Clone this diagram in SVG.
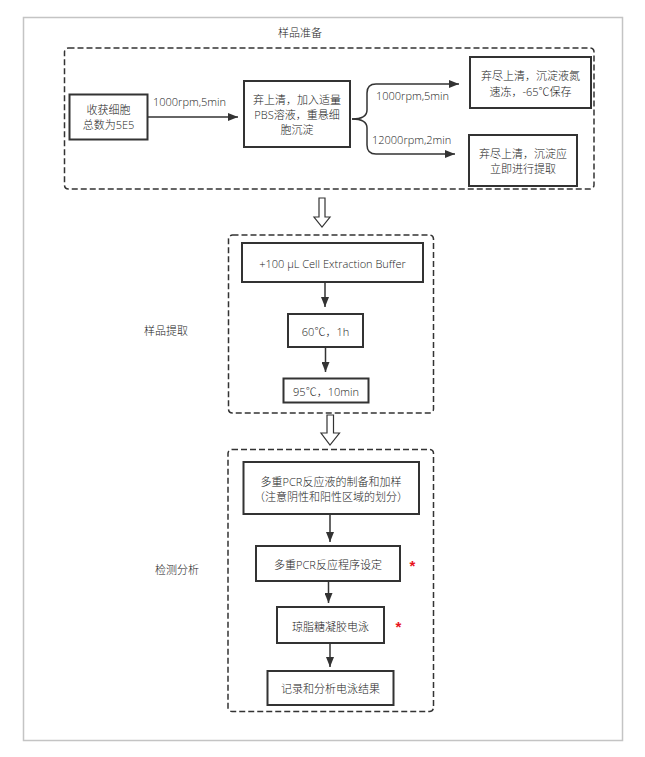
<svg xmlns="http://www.w3.org/2000/svg" width="645" height="757" viewBox="0 0 645 757">
<style>
text{font-family:"Open Sans","Noto Sans CJK SC",sans-serif;font-size:11px;font-weight:300;fill:#222;dominant-baseline:central}
.c{text-anchor:middle}
.box{fill:#fff;stroke:#333;stroke-width:2}
.dash{fill:none;stroke:#333;stroke-width:1.5;stroke-dasharray:6 3}
.line{fill:none;stroke:#333;stroke-width:1.5}
.hollow{fill:#fff;stroke:#333;stroke-width:1.2}
.star{fill:#e8141c;font-family:"Liberation Sans",sans-serif;font-weight:bold;font-size:15px;text-anchor:middle;dominant-baseline:auto}
</style>
<defs>
<marker id="ah" markerWidth="10" markerHeight="8" refX="10" refY="4" orient="auto" markerUnits="userSpaceOnUse">
<path d="M0,0 L10,4 L0,8 Z" fill="#333"/>
</marker>
</defs>
<rect x="0" y="0" width="645" height="757" fill="#fff"/>
<rect id="frame" x="23.5" y="17.5" width="599" height="723" fill="#fff" stroke="#c4c4c4" stroke-width="1.5"/>

<g id="group-prep">
<rect class="dash" x="64.5" y="48" width="529.5" height="141" rx="4"/>
<text class="c" x="300" y="32">样品准备</text>
</g>
<g id="group-extract">
<rect class="dash" x="228.5" y="235" width="205" height="178" rx="4"/>
<text x="144" y="330">样品提取</text>
</g>
<g id="group-detect">
<rect class="dash" x="228" y="449.5" width="205.5" height="262" rx="4"/>
<text x="155" y="569">检测分析</text>
</g>

<g id="n1"><rect class="box" x="69.5" y="94.5" width="78" height="45"/>
<text class="c" x="108.5" y="109">收获细胞</text><text class="c" x="108.5" y="124">总数为5E5</text></g>
<g id="n2"><rect class="box" x="244" y="81" width="106" height="66"/>
<text class="c" x="297" y="99">弃上清，加入适量</text><text class="c" x="297" y="114">PBS溶液，重悬细</text><text class="c" x="297" y="129">胞沉淀</text></g>
<g id="n3"><rect class="box" x="470" y="57" width="121" height="51"/>
<text class="c" x="530.5" y="75">弃尽上清，沉淀液氮</text><text class="c" x="530.5" y="91">速冻，-65℃保存</text></g>
<g id="n4"><rect class="box" x="469" y="135" width="108" height="51"/>
<text class="c" x="523" y="153">弃尽上清，沉淀应</text><text class="c" x="523" y="168">立即进行提取</text></g>

<g id="n5"><rect class="box" x="242" y="243" width="181" height="39"/>
<text class="c" x="332.5" y="263">+100 µL Cell Extraction Buffer</text></g>
<g id="n6"><rect class="box" x="288" y="314" width="75" height="33"/>
<text class="c" x="325.5" y="331">60℃，1h</text></g>
<g id="n7"><rect class="box" x="283.5" y="378.5" width="85" height="24"/>
<text class="c" x="326" y="391">95℃，10min</text></g>

<g id="n8"><rect class="box" x="243.5" y="462" width="175.5" height="52"/>
<text class="c" x="331" y="481">多重PCR反应液的制备和加样</text><text class="c" x="331" y="496">（注意阴性和阳性区域的划分）</text></g>
<g id="n9"><rect class="box" x="256" y="546" width="144" height="35"/>
<text class="c" x="328" y="564">多重PCR反应程序设定</text></g>
<g id="n10"><rect class="box" x="277" y="607" width="107" height="36"/>
<text class="c" x="330.5" y="626">琼脂糖凝胶电泳</text></g>
<g id="n11"><rect class="box" x="267.5" y="671" width="126" height="34"/>
<text class="c" x="330.5" y="688">记录和分析电泳结果</text></g>

<g id="marks">
<text class="star" x="412.5" y="571">*</text>
<text class="star" x="398.5" y="632">*</text>
</g>

<g id="connectors">
<line class="line" x1="148" y1="117" x2="238" y2="117" marker-end="url(#ah)"/>
<text x="153" y="101">1000rpm,5min</text>
<path class="line" d="M352,119 Q367,119 367,110 L367,93 Q367,84 376,84 L459,84" marker-end="url(#ah)"/>
<path class="line" d="M352,119 Q367,119 367,128 L367,145 Q367,154 376,154 L455,154" marker-end="url(#ah)"/>
<text x="376" y="95">1000rpm,5min</text>
<text x="372" y="139">12000rpm,2min</text>
<polygon class="hollow" points="319,198 325,198 325,217 330,217 322,227 314,217 319,217"/>
<line class="line" x1="325" y1="282" x2="325" y2="307" marker-end="url(#ah)"/>
<line class="line" x1="325.5" y1="347" x2="325.5" y2="372" marker-end="url(#ah)"/>
<polygon class="hollow" points="327,415 333.5,415 333.5,433 339.5,433 330,445 321,433 327,433"/>
<line class="line" x1="330" y1="514" x2="330" y2="542" marker-end="url(#ah)"/>
<line class="line" x1="328.5" y1="581" x2="328.5" y2="603" marker-end="url(#ah)"/>
<line class="line" x1="330" y1="643" x2="330" y2="667" marker-end="url(#ah)"/>
</g>
</svg>
